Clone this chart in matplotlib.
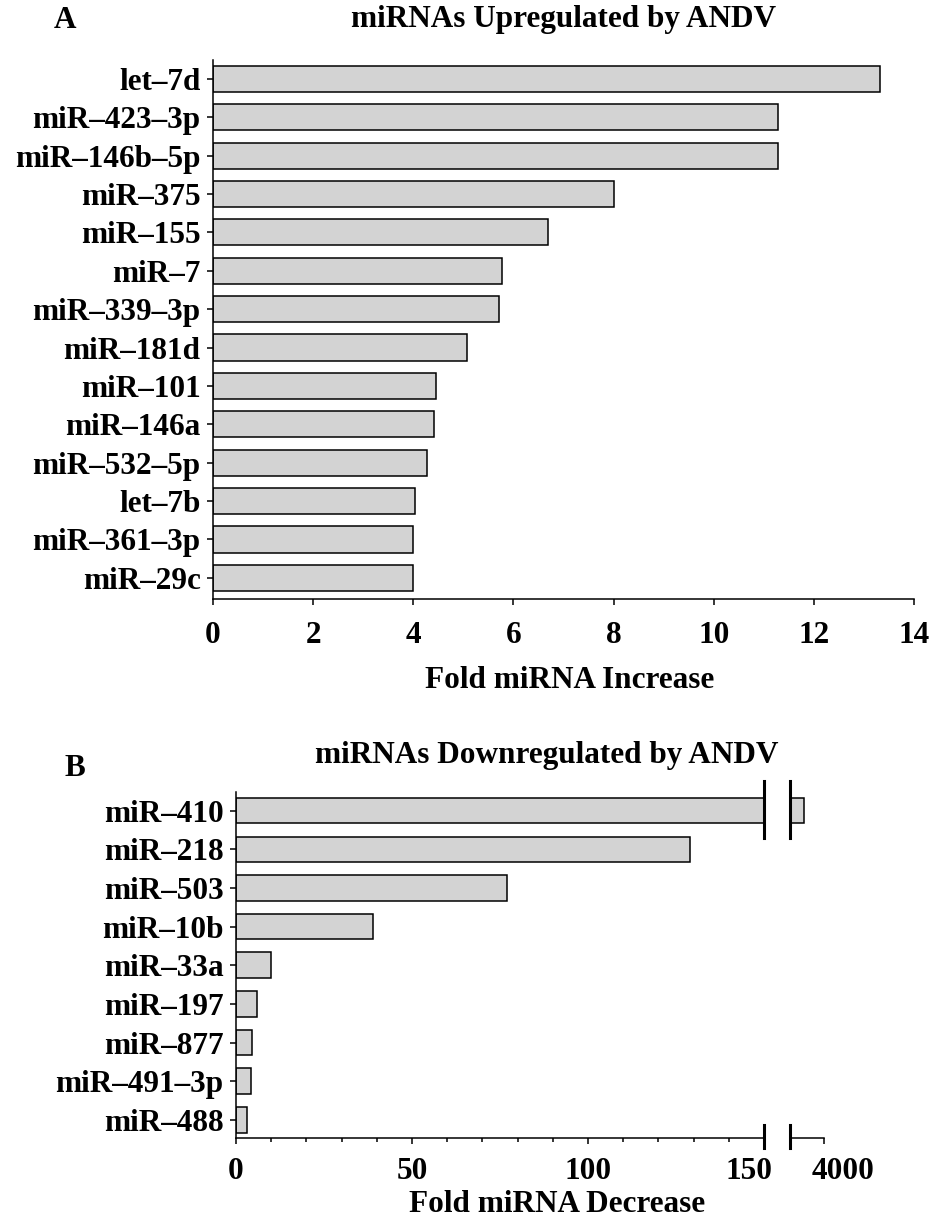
import matplotlib
matplotlib.use('Agg')
import matplotlib.pyplot as plt
from matplotlib.ticker import MultipleLocator
from matplotlib.transforms import ScaledTranslation

plt.rcParams['font.family'] = 'Liberation Serif'
plt.rcParams['font.weight'] = 'bold'

# panel A data
up_names = ['let–7d', 'miR–423–3p', 'miR–146b–5p', 'miR–375', 'miR–155', 'miR–7',
            'miR–339–3p', 'miR–181d', 'miR–101', 'miR–146a', 'miR–532–5p', 'let–7b',
            'miR–361–3p', 'miR–29c']
up_vals = [13.33, 11.29, 11.29, 8.01, 6.70, 5.77, 5.71, 5.07, 4.46, 4.42, 4.27, 4.04, 4.00, 3.99]
up_ticks = [0, 2, 4, 6, 8, 10, 12, 14]

# panel B data
down_names = ['miR–410', 'miR–218', 'miR–503', 'miR–10b', 'miR–33a', 'miR–197',
              'miR–877', 'miR–491–3p', 'miR–488']
down_vals = [3650, 129.0, 76.9, 39.0, 10.0, 6.1, 4.5, 4.2, 3.2]
down_ticks = [0, 50, 100, 150]
break_ticks = [4000]

W, H = 930, 1224
FS = 22.5
bar_col = '#d3d3d3'
lw = 1.1


def fx(px):
    return px / W


def fy(py):
    return 1 - py / H


fig = plt.figure(figsize=(W / 100, H / 100), dpi=100)

# ---- panel A ----
ax1 = fig.add_axes([fx(213), fy(599), fx(914 - 213), (599 - 60) / H])
y1 = list(range(len(up_names)))
ax1.barh(y1, up_vals, height=0.68, color=bar_col, edgecolor='black', linewidth=lw)
ax1.set_xlim(0, 14)
ax1.set_ylim(len(up_names) - 1 + 0.55, -0.49)
ax1.set_xticks(up_ticks)
ax1.set_yticks(y1)
ax1.set_yticklabels(up_names)
for s in ['top', 'right']:
    ax1.spines[s].set_visible(False)
for s in ['left', 'bottom']:
    ax1.spines[s].set_linewidth(lw)
ax1.tick_params(axis='y', length=4, width=lw, pad=5, labelsize=FS)
ax1.tick_params(axis='x', length=4, width=lw, pad=12, labelsize=FS)

fig.text(fx(65), fy(20), 'A', fontsize=FS, ha='center', va='center')
fig.text(fx(564), fy(20), 'miRNAs Upregulated by ANDV', fontsize=FS, ha='center', va='center')
fig.text(fx(570), fy(681), 'Fold miRNA Increase', fontsize=FS, ha='center', va='center')

# ---- panel B (broken x axis) ----
b_bot, b_top = 1138, 791.7
ax2 = fig.add_axes([fx(236), fy(b_bot), fx(764 - 236), (b_bot - b_top) / H])
ax3 = fig.add_axes([fx(790), fy(b_bot), fx(824 - 790), (b_bot - b_top) / H])
y2 = list(range(len(down_names)))
ylim2 = (len(down_names) - 1 + 0.47, -0.49)
for ax in (ax2, ax3):
    ax.barh(y2, down_vals, height=0.66, color=bar_col, edgecolor='black', linewidth=lw)
    ax.set_ylim(*ylim2)
    ax.spines['top'].set_visible(False)
    ax.spines['right'].set_visible(False)
    ax.spines['bottom'].set_linewidth(lw)
    ax.tick_params(axis='x', length=4, width=lw, pad=10, labelsize=FS)

ax2.set_xlim(0, 150)
ax2.set_xticks(down_ticks)
ax2.xaxis.set_minor_locator(MultipleLocator(10))
ax2.tick_params(axis='x', which='minor', length=3, width=lw)
ax2.set_yticks(y2)
ax2.set_yticklabels(down_names)
ax2.spines['left'].set_linewidth(lw)
ax2.tick_params(axis='y', length=4, width=lw, pad=5, labelsize=FS)

ax3.set_xlim(3400, 4000)
ax3.set_xticks(break_ticks)
ax3.spines['left'].set_visible(False)
ax3.set_yticks([])

# labels next to the break sit a little away from their ticks
for lab, dx in ((ax2.get_xticklabels()[-1], -15), (ax3.get_xticklabels()[0], 19)):
    lab.set_transform(lab.get_transform() + ScaledTranslation(dx / 100, 0, fig.dpi_scale_trans))

# break marks
span = (b_bot - b_top) / (ylim2[0] - ylim2[1])
for ax, xb in ((ax2, 150), (ax3, 3400)):
    ax.plot([xb, xb], [-0.77, 0.72], color='black', lw=2.2, clip_on=False)
    ax.plot([xb, xb], [ylim2[0] - 13 / span, ylim2[0] + 10 / span], color='black', lw=2.2, clip_on=False)

fig.text(fx(75), fy(768), 'B', fontsize=FS, ha='center', va='center')
fig.text(fx(547), fy(755), 'miRNAs Downregulated by ANDV', fontsize=FS, ha='center', va='center')
fig.text(fx(557), fy(1205), 'Fold miRNA Decrease', fontsize=FS, ha='center', va='center')

fig.savefig('out.png', dpi=100)
